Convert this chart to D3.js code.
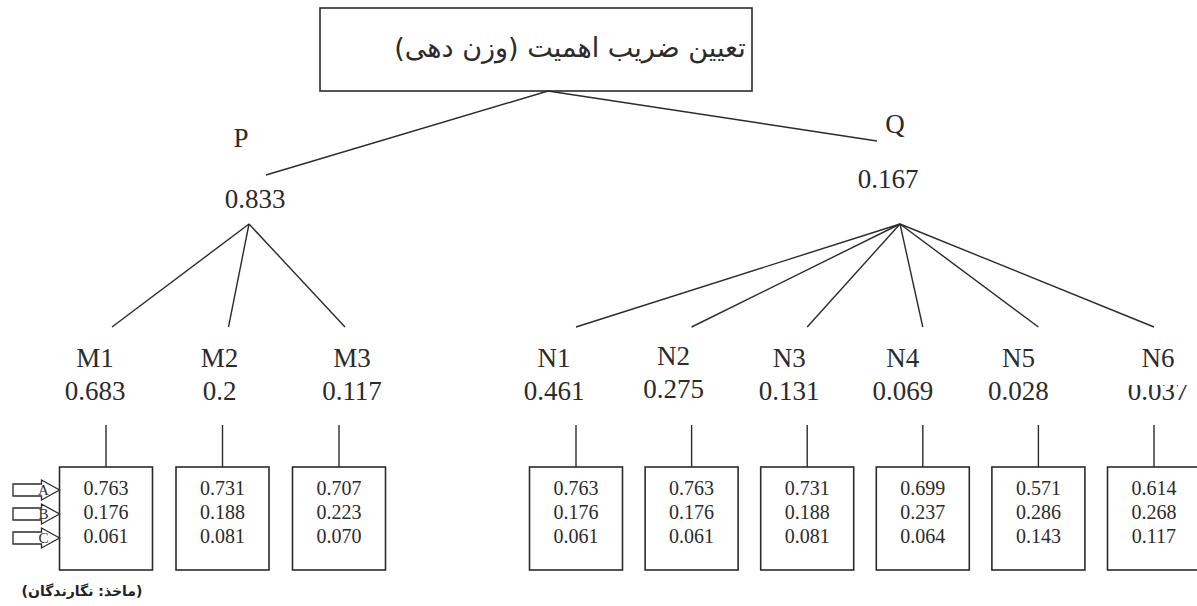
<!DOCTYPE html>
<html>
<head>
<meta charset="utf-8">
<script src="https://cdn.jsdelivr.net/npm/d3@7"></script>
<style>
  html, body { margin: 0; padding: 0; background: #fff; }
  svg { display: block; }
</style>
</head>
<body>
<div id="chart"></div>
<script>
// ---------------- DATA ----------------
const rootTitle = "تعیین ضریب اهمیت (وزن دهی)";
const sourceNote = "(ماخذ: نگارندگان)";
const level1Names = ["P", "Q"];
const level1Weights = [0.833, 0.167];
const pNames = ["M1", "M2", "M3"];
const pWeights = [0.683, 0.2, 0.117];
const qNames = ["N1", "N2", "N3", "N4", "N5", "N6"];
const qWeights = [0.461, 0.275, 0.131, 0.069, 0.028, 0.037];
const alternatives = ["A", "B", "C"];
const pScores = [
  [0.763, 0.176, 0.061],
  [0.731, 0.188, 0.081],
  [0.707, 0.223, 0.070]
];
const qScores = [
  [0.763, 0.176, 0.061],
  [0.763, 0.176, 0.061],
  [0.731, 0.188, 0.081],
  [0.699, 0.237, 0.064],
  [0.571, 0.286, 0.143],
  [0.614, 0.268, 0.117]
];

// ---------------- LAYOUT ----------------
const W = 1197, H = 606;
const ink = "#2b2b2b";
const serif = "'Liberation Serif', 'Times New Roman', serif";
const persian = "'DejaVu Sans', sans-serif";

const svg = d3.select("#chart").append("svg")
  .attr("width", W).attr("height", H);

const fmt3 = d3.format(".3f");
const fmtW = d => String(d);

// scales
const xP = d3.scalePoint().domain(pNames).range([106, 339]);
const xQ = d3.scalePoint().domain(qNames).range([576, 1154]);
const xTop = d3.scalePoint().domain(level1Names).range([249, 900]);
const yRow = d3.scalePoint().domain(alternatives).range([495, 543]);

// small hand-drawn offsets of labels relative to their column
const pLabelDx = [-11, -3, 13];
const qLabelDx = [-22, -18, -18, -20, -20, 4];
const qNameDy = [0, -2, 0, 0, 0, 0];

// ---- root box ----
const root = { x0: 320, x1: 752, y0: 8, y1: 91, apex: 548 };
svg.append("rect")
  .attr("x", root.x0).attr("y", root.y0)
  .attr("width", root.x1 - root.x0).attr("height", root.y1 - root.y0)
  .attr("fill", "none").attr("stroke", ink).attr("stroke-width", 1.6);
svg.append("text")
  .attr("x", 570).attr("y", 57)
  .attr("text-anchor", "middle")
  .style("direction", "rtl")
  .attr("font-family", persian).attr("font-size", 27)
  .attr("fill", ink)
  .text(rootTitle);

// ---- level-1 links ----
const l1Ends = [[266, 175], [877, 141]];
svg.selectAll("line.l1").data(level1Names).join("line")
  .attr("x1", root.apex).attr("y1", root.y1)
  .attr("x2", (d, i) => l1Ends[i][0]).attr("y2", (d, i) => l1Ends[i][1])
  .attr("stroke", ink).attr("stroke-width", 1.5);

// ---- level-1 labels ----
const l1NamePos = [[241, 147], [895, 133]];
const l1WeightPos = [[255, 208], [888, 188]];
svg.selectAll("text.l1n").data(level1Names).join("text")
  .attr("x", (d, i) => l1NamePos[i][0]).attr("y", (d, i) => l1NamePos[i][1])
  .attr("text-anchor", "middle").attr("font-family", serif).attr("font-size", 27)
  .attr("fill", ink).text(d => d);
svg.selectAll("text.l1w").data(level1Weights).join("text")
  .attr("x", (d, i) => l1WeightPos[i][0]).attr("y", (d, i) => l1WeightPos[i][1])
  .attr("text-anchor", "middle").attr("font-family", serif).attr("font-size", 27)
  .attr("fill", ink).text(fmtW);

// ---- level-2 groups ----
const apexY = 224, endY = 327;
function drawGroup(names, weights, scores, xs, labelDx, nameDy, apexX, endDx) {
  const g = svg.append("g");
  g.selectAll("line.link").data(names).join("line")
    .attr("x1", xTop(apexX)).attr("y1", apexY)
    .attr("x2", d => xs(d) + endDx).attr("y2", endY)
    .attr("stroke", ink).attr("stroke-width", 1.4);
  g.selectAll("text.nm").data(names).join("text")
    .attr("x", (d, i) => xs(d) + labelDx[i]).attr("y", (d, i) => 367 + nameDy[i])
    .attr("text-anchor", "middle").attr("font-family", serif).attr("font-size", 27)
    .attr("fill", ink).text(d => d);
  g.selectAll("text.wt").data(weights).join("text")
    .attr("x", (d, i) => xs(names[i]) + labelDx[i]).attr("y", (d, i) => 400 + nameDy[i])
    .attr("text-anchor", "middle").attr("font-family", serif).attr("font-size", 27)
    .attr("fill", ink)
    .attr("clip-path", (d, i) => names[i] === "N6" ? "url(#clipN6)" : null)
    .text(fmtW);
  g.selectAll("line.stem").data(names).join("line")
    .attr("x1", d => xs(d)).attr("x2", d => xs(d))
    .attr("y1", 425).attr("y2", 467)
    .attr("stroke", ink).attr("stroke-width", 1.4);
  const bw = 93;
  g.selectAll("rect.box").data(names).join("rect")
    .attr("x", d => xs(d) - bw / 2).attr("y", 467)
    .attr("width", bw).attr("height", 103)
    .attr("fill", "none").attr("stroke", ink).attr("stroke-width", 1.6);
  names.forEach((n, i) => {
    g.selectAll(null).data(scores[i]).join("text")
      .attr("x", xs(n)).attr("y", (d, j) => yRow(alternatives[j]))
      .attr("text-anchor", "middle").attr("font-family", serif).attr("font-size", 20)
      .attr("fill", ink).text(fmt3);
  });
}

svg.append("defs").append("clipPath").attr("id", "clipN6")
  .append("rect").attr("x", 1100).attr("y", 385).attr("width", 97).attr("height", 30);

drawGroup(pNames, pWeights, pScores, xP, pLabelDx, [0, 0, 0], "P", 6);
drawGroup(qNames, qWeights, qScores, xQ, qLabelDx, qNameDy, "Q", 0);

// ---- alternative arrows (A, B, C) pointing into the first box ----
const arrowTip = xP(pNames[0]) - 93 / 2;
const arrowPath = (tip, cy) => {
  const x0 = 13, xh = tip - 18;
  return `M${x0},${cy - 6}H${xh}V${cy - 10}L${tip},${cy}L${xh},${cy + 10}V${cy + 6}H${x0}Z`;
};
const arr = svg.append("g");
arr.selectAll("path").data(alternatives).join("path")
  .attr("d", d => arrowPath(arrowTip, yRow(d) - 5))
  .attr("fill", "#fff").attr("stroke", ink).attr("stroke-width", 1.3);
arr.selectAll("text").data(alternatives).join("text")
  .attr("x", arrowTip - 16).attr("y", d => yRow(d))
  .attr("text-anchor", "middle").attr("font-family", serif).attr("font-size", 15)
  .attr("fill", ink).text(d => d);

// ---- source note ----
svg.append("text")
  .attr("x", 82).attr("y", 596)
  .attr("text-anchor", "middle")
  .style("direction", "rtl")
  .attr("font-family", persian).attr("font-weight", "bold").attr("font-size", 14)
  .attr("fill", "#222")
  .text(sourceNote);
</script>
</body>
</html>
